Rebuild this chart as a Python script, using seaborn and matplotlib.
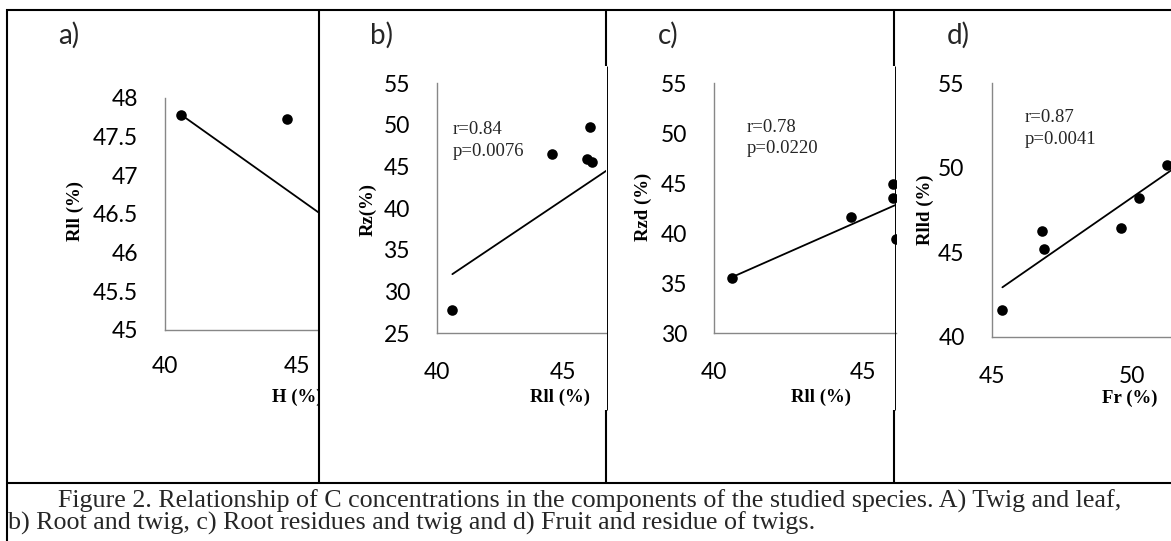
import numpy as np
import matplotlib
matplotlib.use("Agg")
import matplotlib.pyplot as plt
from matplotlib.lines import Line2D
from matplotlib.transforms import Bbox, TransformedBbox
import seaborn as sns

sns.set_theme(style="white")
plt.rcParams["font.family"] = ["Lato", "DejaVu Sans"]

W, H = 1171, 541

# ---- C concentrations (%) for each pair of components ----
a_x = [40.6, 44.63]
a_y = [47.78, 47.73]
a_fit = (-0.2418, 57.60)          # slope, intercept

b_x = [40.61, 44.58, 46.06, 45.94, 46.14]
b_y = [27.8, 46.5, 49.8, 45.9, 45.5]
b_fit = (2.03, -50.34)
b_stats = ["r=0.84", "p=0.0076"]

c_x = [40.59, 44.60, 46.00, 46.00, 46.09]
c_y = [35.5, 41.6, 44.9, 43.5, 39.4]
c_fit = (1.319, -17.94)
c_stats = ["r=0.78", "p=0.0220"]

d_x = [45.38, 46.80, 46.87, 49.58, 50.24, 51.23]
d_y = [41.6, 46.25, 45.2, 46.45, 48.2, 50.15]
d_fit = (1.155, -9.49)
d_stats = ["r=0.87", "p=0.0041"]

panel_tags = ["a)", "b)", "c)", "d)"]
x_titles = ["H (%)", "Rll (%)", "Rll (%)", "Fr (%)"]
y_titles = ["Rll (%)", "Rz(%)", "Rzd (%)", "Rlld (%)"]
x_ticks = [[40, 45], [40, 45], [40, 45], [45, 50]]
y_ticks = [[45, 45.5, 46, 46.5, 47, 47.5, 48],
           [25, 30, 35, 40, 45, 50, 55],
           [30, 35, 40, 45, 50, 55],
           [40, 45, 50, 55]]

caption_1 = ("Figure 2. Relationship of C concentrations in the components of the "
             "studied species. A) Twig and leaf,")
caption_2 = "b) Root and twig, c) Root residues and twig and d) Fruit and residue of twigs."

# ---- layout helpers (pixel coordinates, origin at top-left) ----
fig = plt.figure(figsize=(W / 100, H / 100), dpi=100)
fig.patch.set_facecolor("white")


def fx(x):
    return x / W


def fy(y):
    return 1 - y / H


def px_axes(left, top, right, bottom):
    return fig.add_axes([fx(left), fy(bottom), (right - left) / W, (bottom - top) / H])


def hline(y, x0, x1, lw=1.5):
    fig.add_artist(Line2D([fx(x0), fx(x1)], [fy(y), fy(y)], color="black",
                          lw=lw, transform=fig.transFigure, solid_capstyle="butt"))


def vline(x, y0, y1, lw=1.5):
    fig.add_artist(Line2D([fx(x), fx(x)], [fy(y0), fy(y1)], color="black",
                          lw=lw, transform=fig.transFigure, solid_capstyle="butt"))


# table frame around the four panels and the caption row
hline(10, 6, W)
hline(483, 6, W)
vline(7, 9, H)
vline(319, 9, 484)
for xd in (606, 894):
    vline(xd, 9, 66)
    vline(xd + 0.8, 66, 410, lw=0.7)
    vline(xd, 410, 484)

# panel boxes: (left, top, right, bottom) in pixels, plus axis limits
boxes = [(165, 97.7, 318, 330), (437, 83.3, 606, 333.3),
         (714, 83.3, 896, 333.3), (991.7, 83.3, 1171, 336.7)]
xlims = [(40, 45.81), (40, 46.71), (40, 46.09), (45, 51.37)]
ylims = [(45, 48), (25, 55), (30, 55), (40, 55)]
xs = [a_x, b_x, c_x, d_x]
ys = [a_y, b_y, c_y, d_y]
fits = [a_fit, b_fit, c_fit, d_fit]
stats = [None, b_stats, c_stats, d_stats]

tag_pos = [58, 370, 658, 947]
xlab_pos = [(297, 397), (560, 397), (821, 397), (1130, 398)]
ylab_pos = [(75, 211), (368, 209), (643, 207), (925, 210)]
stat_pos = [None, (453, 129, 152), (747, 128, 149), (1025, 118, 140)]

axis_grey = "#878787"
serif = ["Liberation Serif", "DejaVu Serif"]

for i in range(4):
    left, top, right, bottom = boxes[i]
    ax = px_axes(left, top, right, bottom)
    ax.set_facecolor("none")
    x = np.array(xs[i])
    y = np.array(ys[i])

    slope, icept = fits[i]
    fx_line = np.array([x.min(), xlims[i][1] + 1])
    sns.lineplot(x=fx_line, y=slope * fx_line + icept, ax=ax, color="black",
                 lw=1.3, zorder=2)
    sns.scatterplot(x=x, y=y, ax=ax, color="black", s=58, linewidth=0, zorder=3)

    ax.set_xlim(*xlims[i])
    ax.set_ylim(*ylims[i])
    ax.set_xticks(x_ticks[i])
    ax.set_yticks(y_ticks[i])
    ax.set_xticklabels([f"{v:g}" for v in x_ticks[i]])
    ax.set_yticklabels([f"{v:g}" for v in y_ticks[i]])
    ax.tick_params(axis="both", length=0, labelsize=16.5, colors="black")
    ax.tick_params(axis="y", pad=19.5)
    ax.tick_params(axis="x", pad=19 if i == 0 else 21)
    for s in ("top", "right"):
        ax.spines[s].set_visible(False)
    for s in ("left", "bottom"):
        ax.spines[s].set_color(axis_grey)
        ax.spines[s].set_linewidth(1.0)
    ax.grid(False)

    # axis titles
    ax.set_xlabel(x_titles[i], family=serif, weight="bold", fontsize=13.5,
                  color="black", va="center", ha="center")
    ax.xaxis.set_label_coords(fx(xlab_pos[i][0]), fy(xlab_pos[i][1]),
                              transform=fig.transFigure)
    ax.set_ylabel(y_titles[i], family=serif, weight="bold", fontsize=13.5,
                  color="black", va="center", ha="center")
    ax.yaxis.set_label_coords(fx(ylab_pos[i][0]), fy(ylab_pos[i][1]),
                              transform=fig.transFigure)
    # the chart area ends at the right border of its cell
    clip = TransformedBbox(Bbox([[0, 0], [fx(right), 1]]), fig.transFigure)
    ax.xaxis.label.set_clip_box(clip)
    ax.xaxis.label.set_clip_on(True)

    # correlation statistics
    if stats[i] is not None:
        sx, sy1, sy2 = stat_pos[i]
        fig.text(fx(sx), fy(sy1), stats[i][0], family=serif, fontsize=13.5,
                 va="center", ha="left")
        fig.text(fx(sx), fy(sy2), stats[i][1], family=serif, fontsize=13.5,
                 va="center", ha="left")

    # panel tag
    fig.text(fx(tag_pos[i]), fy(44), panel_tags[i], fontsize=20,
             va="baseline", ha="left")

# caption row: the first line spans the cell, the second follows at the same size
renderer = fig.canvas.get_renderer()
cap_size = 16
t1 = fig.text(fx(58), fy(508), caption_1, family=serif, fontsize=cap_size,
              va="baseline", ha="left")
t2 = fig.text(fx(8), fy(530), caption_2, family=serif, fontsize=cap_size,
              va="baseline", ha="left")
cap_size *= 1067 / t1.get_window_extent(renderer).width
t1.set_fontsize(cap_size)
t2.set_fontsize(cap_size)

fig.savefig("out.png", dpi=100, facecolor="white")
